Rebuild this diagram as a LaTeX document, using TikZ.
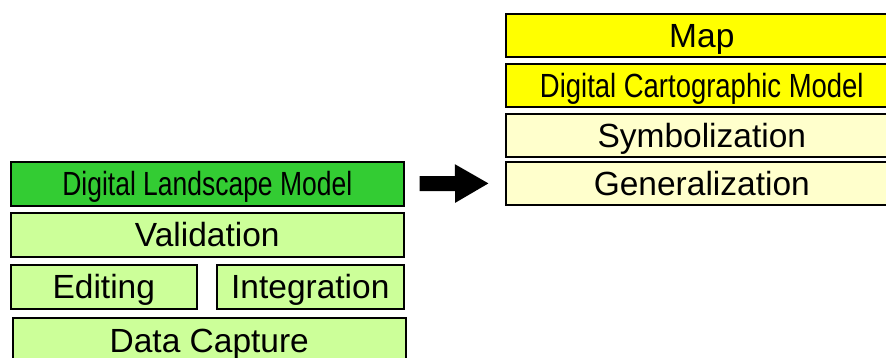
\documentclass[tikz,border=0pt]{standalone}
\usepackage{fontspec}
\setmainfont{Liberation Sans}
\usetikzlibrary{arrows.meta}
\definecolor{dlmgreen}{HTML}{33CC33}
\definecolor{lightgreen}{HTML}{CCFF99}
\definecolor{mapyellow}{HTML}{FFFF00}
\definecolor{lightyellow}{HTML}{FFFFCC}
\tikzset{
  box/.style={draw=black, line width=1.6pt, inner sep=0pt, anchor=north west,
    text height=23.5pt, text depth=0pt,
    font=\fontsize{33.5}{38}\selectfont},
  wide/.style={box, minimum width=393pt, minimum height=44pt},
  rwide/.style={box, minimum width=392pt, minimum height=43pt},
  bigarrow/.style={line width=15pt, -{Triangle[length=34pt,width=36pt]}}
}
\begin{document}
\begin{tikzpicture}[x=1pt,y=-1pt]
\useasboundingbox (0,0) rectangle (886,358);
\clip (0,0) rectangle (886,358);
% left stack
\node[wide, fill=dlmgreen] (dlm) at (10,161) {\scalebox{0.79}[1]{Digital Landscape Model}};
\node[wide, fill=lightgreen] (val) at (10,212) {Validation};
\node[box, fill=lightgreen, minimum width=186pt, minimum height=44pt] (edit) at (10,264) {Editing};
\node[box, fill=lightgreen, minimum width=187pt, minimum height=44pt] (integ) at (216,264) {Integration};
\node[box, fill=lightgreen, minimum width=393pt, minimum height=46pt] (cap) at (12,317) {Data Capture};
% right stack
\node[rwide, fill=mapyellow] (map) at (505,13) {Map};
\node[rwide, fill=mapyellow] (dcm) at (505,63) {\scalebox{0.82}[1]{Digital Cartographic Model}};
\node[rwide, fill=lightyellow] (sym) at (505,113) {Symbolization};
\node[rwide, fill=lightyellow] (gen) at (505,161) {Generalization};
% arrow
\draw[bigarrow, shorten <=15pt, shorten >=16pt] (dlm.east) -- (gen.west);
\end{tikzpicture}
\end{document}
